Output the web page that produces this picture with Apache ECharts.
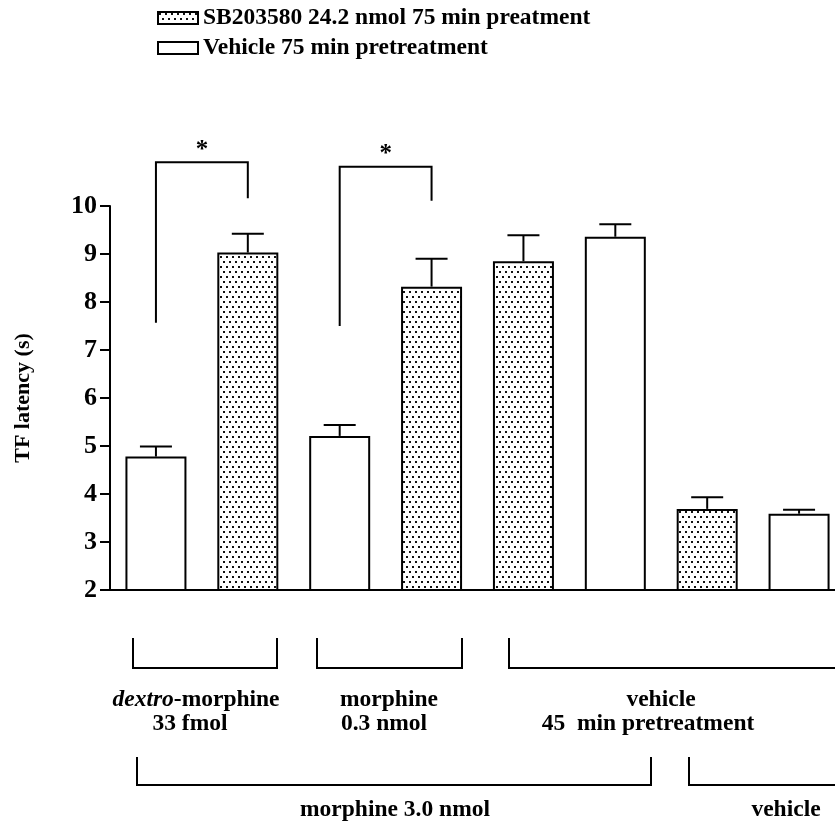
<!DOCTYPE html>
<html>
<head>
<meta charset="utf-8">
<script src="https://cdn.jsdelivr.net/npm/echarts@6/dist/echarts.min.js"></script>
<style>
  html, body { margin: 0; padding: 0; background: #fff; }
  #main { width: 835px; height: 822px; }
</style>
</head>
<body>
<div id="main"></div>
<script>
// groups, left to right
var categories = ['dextro-morphine veh', 'dextro-morphine SB', 'morphine veh', 'morphine SB',
  'vehicle SB', 'vehicle veh', 'vehicle/vehicle SB', 'vehicle/vehicle veh'];
var sbValues = ['-', 9.03, '-', 8.32, 8.85, '-', 3.69, '-'];
var vehicleValues = [4.78, '-', 5.21, '-', '-', 9.36, '-', 3.59];
// upper end of error bars
var errTop = [4.99, 9.42, 5.44, 8.90, 9.39, 9.62, 3.93, 3.67];
// significance brackets: [leftIdx, rightIdx, leftFoot, top, rightFoot]
var sigBrackets = [[0, 1, 7.57, 10.91, 10.16], [2, 3, 7.50, 10.82, 10.11]];
var yTicks = { min: 2, max: 10, interval: 1 };

var SERIF = '"Liberation Serif", "DejaVu Serif", serif';

// dotted fill
var pat = document.createElement('canvas');
pat.width = 6; pat.height = 10;
var ctx = pat.getContext('2d');
ctx.fillStyle = '#fff';
ctx.fillRect(0, 0, 6, 10);
ctx.fillStyle = '#111';
ctx.fillRect(1, 1, 2, 2);
ctx.fillRect(4, 6, 2, 2);
var dotted = { image: pat, repeat: 'repeat' };

var errData = [];
for (var i = 0; i < categories.length; i++) {
  var m = sbValues[i] !== '-' ? sbValues[i] : vehicleValues[i];
  errData.push([i, m, errTop[i]]);
}

var myChart = echarts.init(document.getElementById('main'));
var option = {
  animation: false,
  backgroundColor: '#fff',
  legend: {
    orient: 'vertical',
    left: 157,
    top: 6,
    padding: 0,
    itemWidth: 40,
    itemHeight: 12,
    itemGap: 6,
    icon: 'rect',
    data: ['SB203580 24.2 nmol 75 min preatment', 'Vehicle 75 min pretreatment'],
    itemStyle: { borderColor: '#000', borderWidth: 2 },
    textStyle: { fontFamily: SERIF, fontWeight: 'bold', fontSize: 23.5, color: '#000' }
  },
  grid: { left: 110, top: 206, height: 384, width: 735, outerBoundsMode: 'none' },
  xAxis: {
    type: 'category',
    data: categories,
    axisLine: { lineStyle: { color: '#000', width: 2 } },
    axisTick: { show: false },
    axisLabel: { show: false }
  },
  yAxis: {
    type: 'value',
    min: yTicks.min,
    max: yTicks.max,
    interval: yTicks.interval,
    name: 'TF latency (s)',
    nameLocation: 'middle',
    nameRotate: 90,
    nameGap: 76,
    nameTextStyle: { fontFamily: SERIF, fontWeight: 'bold', fontSize: 22, color: '#000' },
    axisLine: { show: true, lineStyle: { color: '#000', width: 2 } },
    axisTick: { show: true, length: 10, lineStyle: { color: '#000', width: 2 } },
    axisLabel: { fontFamily: SERIF, fontWeight: 'bold', fontSize: 26, color: '#000', margin: 13 },
    splitLine: { show: false }
  },
  series: [
    {
      name: 'SB203580 24.2 nmol 75 min preatment',
      type: 'bar',
      data: sbValues,
      barWidth: 61,
      barGap: '-100%',
      itemStyle: { color: dotted, borderColor: '#000', borderWidth: 2 }
    },
    {
      name: 'Vehicle 75 min pretreatment',
      type: 'bar',
      data: vehicleValues,
      barWidth: 61,
      itemStyle: { color: '#fff', borderColor: '#000', borderWidth: 2 }
    },
    {
      type: 'custom',
      z: 5,
      data: errData,
      renderItem: function (params, api) {
        var base = api.coord([api.value(0), api.value(1)]);
        var top = api.coord([api.value(0), api.value(2)]);
        var st = { stroke: '#000', lineWidth: 2 };
        return {
          type: 'group',
          children: [
            { type: 'line', shape: { x1: base[0], y1: base[1], x2: top[0], y2: top[1] }, style: st },
            { type: 'line', shape: { x1: top[0] - 16, y1: top[1], x2: top[0] + 16, y2: top[1] }, style: st }
          ]
        };
      }
    },
    {
      type: 'custom',
      z: 5,
      clip: false,
      data: sigBrackets,
      renderItem: function (params, api) {
        var a = api.coord([api.value(0), api.value(2)]);
        var t0 = api.coord([api.value(0), api.value(3)]);
        var t1 = api.coord([api.value(1), api.value(3)]);
        var b = api.coord([api.value(1), api.value(4)]);
        return {
          type: 'group',
          children: [
            { type: 'polyline', shape: { points: [a, t0, t1, b] }, style: { stroke: '#000', lineWidth: 2, fill: null } },
            { type: 'text', x: (t0[0] + t1[0]) / 2, y: t0[1] - 12,
              style: { text: '*', font: 'bold 25px ' + SERIF, fill: '#000', align: 'center', verticalAlign: 'middle' } }
          ]
        };
      }
    }
  ],
  graphic: (function () {
    var st = { stroke: '#000', lineWidth: 2, fill: null };
    var txt = function (x, y, s) {
      return { type: 'text', x: x, y: y, style: {
        text: s, font: 'bold 23.5px ' + SERIF, fill: '#000', align: 'center', verticalAlign: 'middle',
        rich: { i: { font: 'italic bold 23.5px ' + SERIF, fill: '#000' } }
      } };
    };
    var br = function (x1, x2, y1, y2) {
      return { type: 'polyline', shape: { points: [[x1, y1], [x1, y2], [x2, y2], [x2, y1]] }, style: st };
    };
    return [
      br(133, 277, 638, 668),
      br(317, 462, 638, 668),
      br(509, 845, 638, 668),
      br(137, 651, 757, 785),
      br(689, 845, 757, 785),
      txt(196, 700, '{i|dextro}-morphine'),
      txt(190, 724, '33 fmol'),
      txt(389, 700, 'morphine'),
      txt(384, 724, '0.3 nmol'),
      txt(661, 700, 'vehicle'),
      txt(648, 724, '45  min pretreatment'),
      txt(395, 810, 'morphine 3.0 nmol'),
      txt(786, 810, 'vehicle')
    ];
  })()
};
myChart.setOption(option);
</script>
</body>
</html>
